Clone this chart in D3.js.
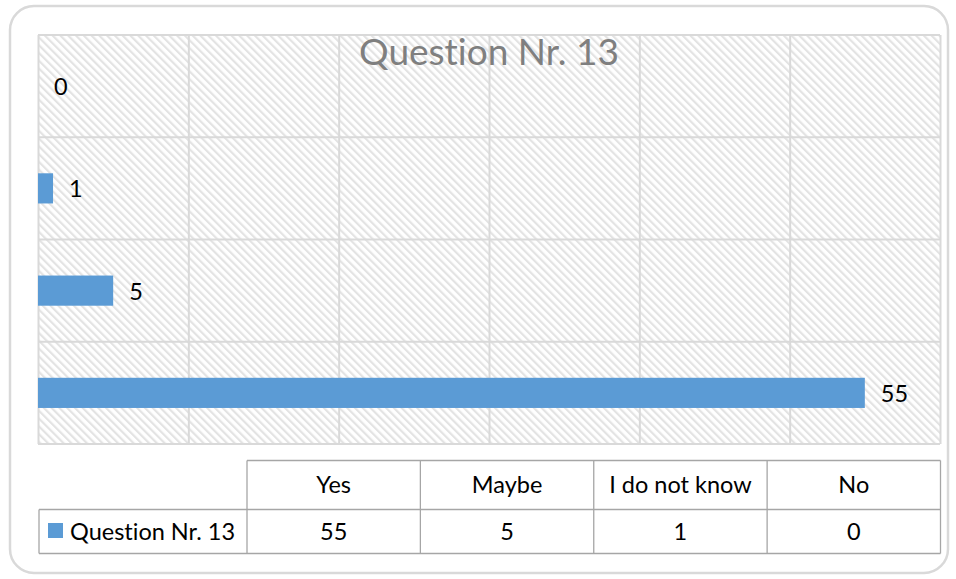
<!DOCTYPE html>
<html>
<head>
  <meta charset="utf-8">
  <script src="https://d3js.org/d3.v7.min.js"></script>
  <style>
    body { margin: 0; background: #fff; }
    text { font-family: "Lato", "Open Sans", sans-serif; font-variant-ligatures: none; }
  </style>
</head>
<body>
<script>
  // chart data (table order: first category is drawn at the bottom)
  var categories = ["Yes", "Maybe", "I do not know", "No"];
  var values = [55, 5, 1, 0];
  var seriesName = "Question Nr. 13";
  var xTicks = [0, 10, 20, 30, 40, 50, 60];

  var W = 956, H = 579;
  var plot = { left: 38, right: 940, top: 35, bottom: 444 };
  var barColor = "#5b9bd5";
  var gridColor = "#d9d9d9";

  var svg = d3.select("body").append("svg")
      .attr("width", W)
      .attr("height", H);

  // hatch pattern for the plot area
  var defs = svg.append("defs");
  defs.append("pattern")
      .attr("id", "hatch")
      .attr("patternUnits", "userSpaceOnUse")
      .attr("width", 5.5)
      .attr("height", 5.5)
      .attr("patternTransform", "rotate(-45)")
    .append("rect")
      .attr("x", 0).attr("y", 0)
      .attr("width", 2.2).attr("height", 5.5)
      .attr("fill", "#e3e3e3");

  // outer chart frame
  svg.append("rect")
      .attr("x", 10).attr("y", 6)
      .attr("width", 938).attr("height", 567)
      .attr("rx", 24).attr("ry", 24)
      .attr("fill", "#fff")
      .attr("stroke", "#d9d9d9")
      .attr("stroke-width", 2.5);

  var x = d3.scaleLinear()
      .domain([0, 60])
      .range([plot.left, plot.right]);

  // reverse so "Yes" sits at the bottom, like the Excel original
  var y = d3.scaleBand()
      .domain(categories.slice().reverse())
      .range([plot.top, plot.bottom])
      .paddingInner(0.705)
      .paddingOuter(0.3525);

  var yGrid = d3.scaleBand()
      .domain(categories.slice().reverse())
      .range([plot.top, plot.bottom]);

  svg.append("rect")
      .attr("x", plot.left).attr("y", plot.top)
      .attr("width", plot.right - plot.left)
      .attr("height", plot.bottom - plot.top)
      .attr("fill", "url(#hatch)");

  // vertical gridlines
  svg.append("g")
      .attr("transform", "translate(0," + plot.top + ")")
      .call(d3.axisBottom(x).tickValues(xTicks)
          .tickSize(plot.bottom - plot.top).tickFormat(""))
      .call(function (g) { g.select(".domain").remove(); })
      .selectAll("line")
        .attr("stroke", gridColor)
        .attr("stroke-width", 2);

  // horizontal category lines
  var hLines = yGrid.domain().map(function (d) { return yGrid(d); }).concat([plot.bottom]);
  svg.append("g").selectAll("line")
      .data(hLines)
      .enter().append("line")
        .attr("x1", plot.left).attr("x2", plot.right)
        .attr("y1", function (d) { return d; })
        .attr("y2", function (d) { return d; })
        .attr("stroke", gridColor)
        .attr("stroke-width", 2);

  // bars
  svg.append("g").selectAll("rect")
      .data(categories)
      .enter().append("rect")
        .attr("x", x(0))
        .attr("y", function (d) { return y(d); })
        .attr("width", function (d, i) { return x(values[i]) - x(0); })
        .attr("height", y.bandwidth())
        .attr("fill", barColor);

  // data labels
  svg.append("g").selectAll("text")
      .data(categories)
      .enter().append("text")
        .attr("x", function (d, i) { return x(values[i]) + 16; })
        .attr("y", function (d) { return y(d) + y.bandwidth() / 2 + 9; })
        .style("font-size", "23.5px")
        .attr("fill", "#000")
        .text(function (d, i) { return values[i]; });

  // title
  svg.append("text")
      .attr("x", (plot.left + plot.right) / 2)
      .attr("y", 65)
      .attr("text-anchor", "middle")
      .style("font-size", "37px")
      .attr("fill", "#7f7f7f")
      .text(seriesName);

  // data table under the plot
  var tbl = { top: 460.5, mid: 509.5, bottom: 553.5, legendLeft: 39, left: 247, right: 940.5 };
  var col = d3.scaleBand()
      .domain(categories)
      .range([tbl.left, tbl.right]);
  var tableColor = "#a6a6a6";
  var t = svg.append("g")
      .attr("fill", "none")
      .attr("stroke", tableColor)
      .attr("stroke-width", 1.3);

  t.append("line").attr("x1", tbl.left).attr("x2", tbl.right).attr("y1", tbl.top).attr("y2", tbl.top);
  t.append("line").attr("x1", tbl.legendLeft).attr("x2", tbl.right).attr("y1", tbl.mid).attr("y2", tbl.mid);
  t.append("line").attr("x1", tbl.legendLeft).attr("x2", tbl.right).attr("y1", tbl.bottom).attr("y2", tbl.bottom);
  t.append("line").attr("x1", tbl.legendLeft).attr("x2", tbl.legendLeft).attr("y1", tbl.mid).attr("y2", tbl.bottom);
  t.selectAll("line.col")
      .data(categories.concat(["end"]))
      .enter().append("line")
        .attr("class", "col")
        .attr("x1", function (d) { return d === "end" ? tbl.right : col(d); })
        .attr("x2", function (d) { return d === "end" ? tbl.right : col(d); })
        .attr("y1", tbl.top).attr("y2", tbl.bottom);

  svg.append("g").selectAll("text")
      .data(categories)
      .enter().append("text")
        .attr("x", function (d) { return col(d) + col.bandwidth() / 2; })
        .attr("y", 493)
        .attr("text-anchor", "middle")
        .style("font-size", "23.5px")
        .attr("fill", "#000")
        .text(function (d) { return d; });

  svg.append("g").selectAll("text")
      .data(values)
      .enter().append("text")
        .attr("x", function (d, i) { return col(categories[i]) + col.bandwidth() / 2; })
        .attr("y", 540)
        .attr("text-anchor", "middle")
        .style("font-size", "23.5px")
        .attr("fill", "#000")
        .text(function (d) { return d; });

  // legend key + series name
  svg.append("rect")
      .attr("x", 48).attr("y", 523)
      .attr("width", 15).attr("height", 15)
      .attr("fill", barColor);
  svg.append("text")
      .attr("x", 70).attr("y", 540)
      .style("font-size", "23.5px")
      .attr("fill", "#000")
      .text(seriesName);
</script>
</body>
</html>
